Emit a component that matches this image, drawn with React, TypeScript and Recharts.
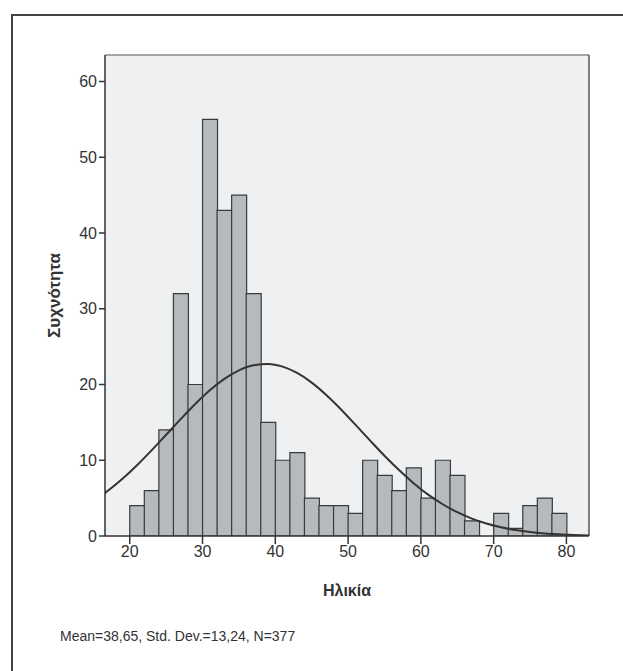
import { ComposedChart, Bar, Line, XAxis, YAxis, CartesianGrid, Label, ReferenceLine } from "recharts";

// bin centres (width 2, 20..80) and counts
const binCenters = [21, 23, 25, 27, 29, 31, 33, 35, 37, 39, 41, 43, 45, 47, 49, 51, 53, 55, 57, 59, 61, 63, 65, 67, 69, 71, 73, 75, 77, 79];
const counts = [4, 6, 14, 32, 20, 55, 43, 45, 32, 15, 10, 11, 5, 4, 4, 3, 10, 8, 6, 9, 5, 10, 8, 2, 0, 3, 1, 4, 5, 3];

// normal curve at odd ages
const curveX = [15, 17, 19, 21, 23, 25, 27, 29, 31, 33, 35, 37, 39, 41, 43, 45, 47, 49, 51, 53, 55, 57, 59, 61, 63, 65, 67, 69, 71, 73, 75, 77, 79, 81, 83, 85];
const curveY = [4.61, 5.97, 7.55, 9.34, 11.3, 13.36, 15.43, 17.42, 19.23, 20.74, 21.87, 22.54, 22.71, 22.36, 21.53, 20.25, 18.62, 16.74, 14.7, 12.63, 10.6, 8.7, 6.97, 5.46, 4.19, 3.14, 2.3, 1.64, 1.15, 0.79, 0.52, 0.34, 0.22, 0.14, 0.08, 0.05];

const xTicks = [20, 30, 40, 50, 60, 70, 80];
const yTicks = [0, 10, 20, 30, 40, 50, 60];
const xDomain = [16.6, 83.1];
const yDomain = [0, 63.5];

const data = curveX.map((x, i) => {
  const b = binCenters.indexOf(x);
  return { age: x, count: b >= 0 ? counts[b] : undefined, normal: curveY[i] };
});

const font = "'Liberation Sans', Arial, sans-serif";

export default function App() {
  return (
    <div style={{ position: "fixed", left: 0, top: 0, width: 623, height: 671, background: "#fff", fontFamily: font, overflow: "hidden" }}>
      <div style={{ position: "absolute", left: 11, top: 14, width: 640, height: 2, background: "#444" }} />
      <div style={{ position: "absolute", left: 11, top: 14, width: 2, height: 657, background: "#444" }} />
      <ComposedChart
        width={623}
        height={671}
        data={data}
        barCategoryGap={0}
        barGap={0}
        margin={{ top: 55, right: 34, bottom: 75, left: 62 }}
        style={{ position: "absolute", left: 0, top: 0 }}
      >
        <CartesianGrid horizontal={false} vertical={false} fill="#eef0f2" stroke="none" />
        <XAxis
          dataKey="age"
          type="number"
          domain={xDomain}
          allowDataOverflow
          ticks={xTicks}
          height={60}
          tickSize={8}
          tick={{ fill: "#333", fontSize: 16, fontFamily: font }}
          axisLine={{ stroke: "#333", strokeWidth: 1.5 }}
          tickLine={{ stroke: "#333", strokeWidth: 1.5 }}
        >
          <Label value="Ηλικία" position="insideBottom" offset={0} style={{ fill: "#333", fontSize: 16, fontWeight: "bold", fontFamily: font }} />
        </XAxis>
        <YAxis
          type="number"
          domain={yDomain}
          allowDataOverflow
          ticks={yTicks}
          width={43}
          tickSize={6}
          tick={{ fill: "#333", fontSize: 16, fontFamily: font }}
          axisLine={{ stroke: "#333", strokeWidth: 1.5 }}
          tickLine={{ stroke: "#333", strokeWidth: 1.5 }}
        >
          <Label value="Συχνότητα" angle={-90} position="insideLeft" offset={-8} style={{ textAnchor: "middle", fill: "#333", fontSize: 17, fontWeight: "bold", fontFamily: font }} />
        </YAxis>
        <ReferenceLine y={yDomain[1]} stroke="#888" strokeWidth={1.5} />
        <ReferenceLine x={xDomain[1]} stroke="#555" strokeWidth={1.5} />
        <Bar dataKey="count" fill="#b6babd" stroke="#3a3a3a" strokeWidth={1.2} isAnimationActive={false} />
        <Line dataKey="normal" type="monotone" stroke="#333" strokeWidth={2} dot={false} activeDot={false} isAnimationActive={false} />
      </ComposedChart>
      <div style={{ position: "absolute", left: 60, top: 628, fontSize: 14, color: "#333", fontFamily: font }}>
        Mean=38,65, Std. Dev.=13,24, N=377
      </div>
    </div>
  );
}
